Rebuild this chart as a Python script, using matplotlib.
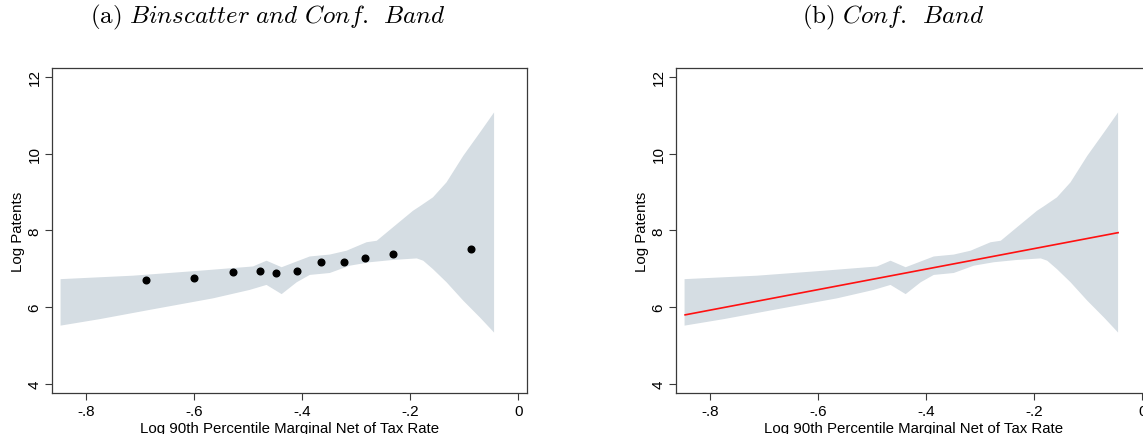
import matplotlib
matplotlib.use("Agg")
import matplotlib.pyplot as plt
import numpy as np

plt.rcParams['font.family'] = ['Liberation Sans', 'DejaVu Sans']
plt.rcParams['mathtext.fontset'] = 'cm'

# ---- data ----
bin_x = [-0.689, -0.600, -0.528, -0.478, -0.449, -0.409, -0.366, -0.322, -0.283, -0.232, -0.088]
bin_y = [6.71, 6.75, 6.91, 6.95, 6.89, 6.95, 7.18, 7.18, 7.28, 7.38, 7.51]

band_upper_x = [-0.847, -0.713, -0.589, -0.491, -0.466, -0.438, -0.386, -0.349, -0.318,
                -0.281, -0.262, -0.232, -0.195, -0.182, -0.158, -0.133, -0.102, -0.071, -0.045]
band_upper_y = [6.73, 6.82, 6.95, 7.06, 7.21, 7.04, 7.32, 7.37, 7.47,
                7.69, 7.73, 8.08, 8.51, 8.63, 8.86, 9.25, 9.94, 10.55, 11.07]

band_lower_x = [-0.847, -0.774, -0.682, -0.565, -0.497, -0.466, -0.438, -0.410, -0.386,
                -0.349, -0.312, -0.275, -0.232, -0.188, -0.176, -0.158, -0.133, -0.102,
                -0.071, -0.045]
band_lower_y = [5.52, 5.69, 5.93, 6.23, 6.45, 6.58, 6.34, 6.65, 6.84,
                6.89, 7.08, 7.17, 7.23, 7.27, 7.21, 6.99, 6.65, 6.17,
                5.73, 5.34]

fit_x = [-0.846, -0.045]
fit_y = [5.80, 7.94]

x_ticks = [-0.8, -0.6, -0.4, -0.2, 0.0]
x_ticklabels = ['-.8', '-.6', '-.4', '-.2', '0']
y_ticks = [4, 6, 8, 10, 12]
y_ticklabels = ['4', '6', '8', '10', '12']

xlabel = 'Log 90th Percentile Marginal Net of Tax Rate'
ylabel = 'Log Patents'
title_a = r'$\mathrm{(a)}\ \mathit{Binscatter\ and\ Conf.\ \,Band}$'
title_b = r'$\mathrm{(b)}\ \mathit{Conf.\ \,Band}$'

# ---- figure ----
W, H = 1143, 435
fig = plt.figure(figsize=(W / 100, H / 100), dpi=100)

band_color = '#d5dde3'
frame_color = '#3a3a3a'


def px_axes(left, top, right, bottom):
    return [left / W, 1 - bottom / H, (right - left) / W, (bottom - top) / H]


def style(ax):
    ax.set_xlim(-0.8634, 0.0159)
    ax.set_ylim(3.758, 12.227)
    ax.set_xticks(x_ticks)
    ax.set_xticklabels(x_ticklabels)
    ax.set_yticks(y_ticks)
    ax.set_yticklabels(y_ticklabels, rotation=90, va='center')
    ax.tick_params(axis='both', direction='out', length=4.7, width=0.8,
                   color=frame_color, labelsize=11, pad=3)
    ax.tick_params(axis='y', pad=2.5)
    for s in ax.spines.values():
        s.set_color(frame_color)
        s.set_linewidth(0.9)
    ax.set_xlabel(xlabel, fontsize=10.8, labelpad=2)
    ax.set_ylabel(ylabel, fontsize=10.8, labelpad=2)
    poly_x = list(band_upper_x) + list(band_lower_x[::-1])
    poly_y = list(band_upper_y) + list(band_lower_y[::-1])
    ax.fill(poly_x, poly_y, color=band_color, lw=0, zorder=1)


ax1 = fig.add_axes(px_axes(51.7, 69, 527, 394.3))
style(ax1)
ax1.plot(bin_x, bin_y, 'o', color='black', markersize=4.8, zorder=3)

ax2 = fig.add_axes(px_axes(675.7, 69, 1151, 394.3))
style(ax2)
ax2.plot(fit_x, fit_y, color='#ff1010', lw=1.2, zorder=3)

fig.text(267.7 / W, 1 - 17 / H, title_a, fontsize=18, ha='center', va='center')
fig.text(892.7 / W, 1 - 17 / H, title_b, fontsize=18, ha='center', va='center')

fig.savefig('out.png', dpi=100)
